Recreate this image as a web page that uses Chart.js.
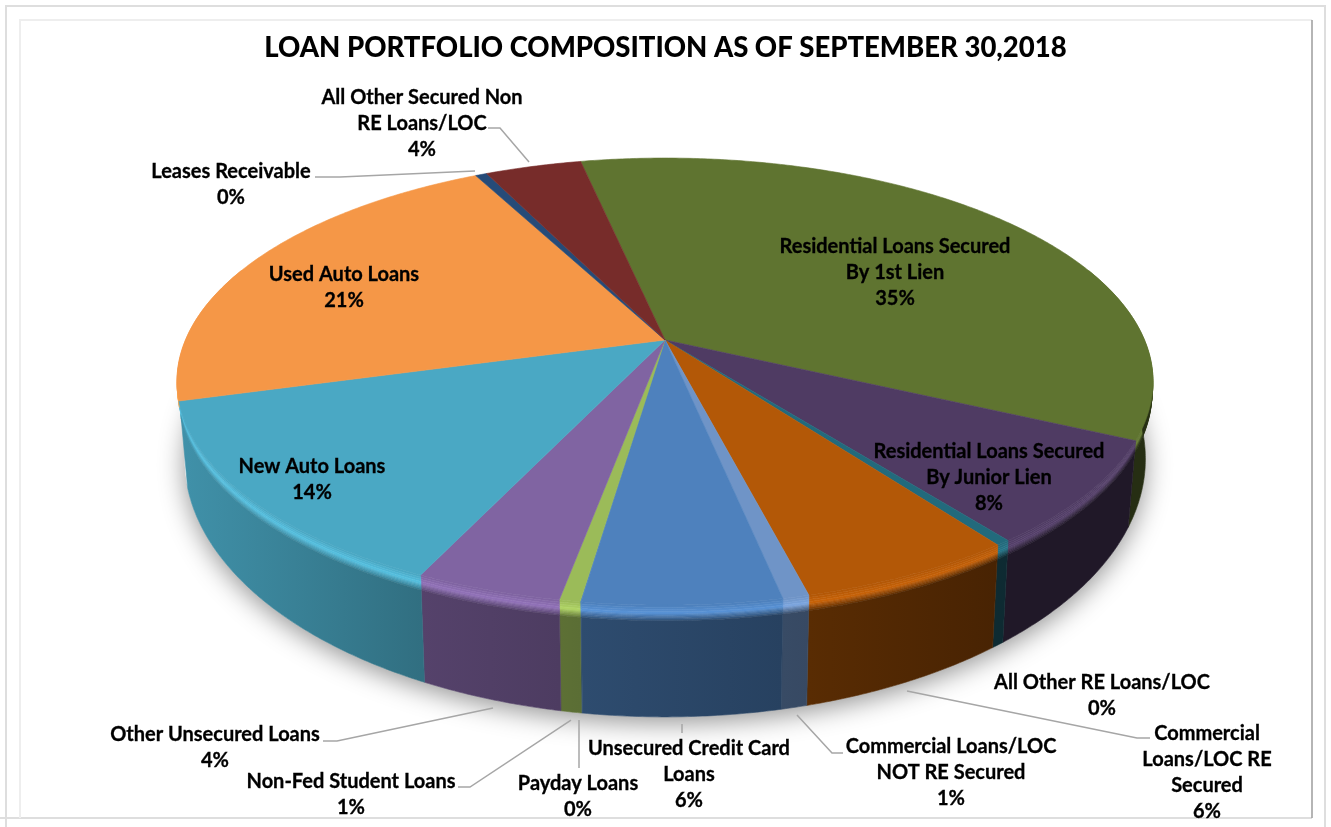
<!DOCTYPE html>
<html><head><meta charset="utf-8">
<script src="https://cdn.jsdelivr.net/npm/chart.js@4"></script>
<style>html,body{margin:0;padding:0;background:#fff;overflow:hidden}canvas{display:block}</style>
</head><body><canvas id="c" width="1331" height="827"></canvas>
<script>
const categories = ["Residential Loans Secured By 1st Lien","Residential Loans Secured By Junior Lien","All Other RE Loans/LOC","Commercial Loans/LOC RE Secured","Commercial Loans/LOC NOT RE Secured","Unsecured Credit Card Loans","Payday Loans","Non-Fed Student Loans","Other Unsecured Loans","New Auto Loans","Used Auto Loans","Leases Receivable","All Other Secured Non RE Loans/LOC"];
const shares = [35.2,7.45,0.4,6.05,0.73,5.47,0.03,0.57,4.06,13.63,21.6,0.45,3.8];
const percentLabels = ["35%","8%","0%","6%","1%","6%","0%","1%","4%","14%","21%","0%","4%"];
const colors = ["#5f7430","#4f3b63","#226a7c","#b35807","#6f94c7","#4e81bd","#4e81bd","#9bbb59","#8064a2","#4aa8c4","#f59747","#264b78","#772c2a"];

// label placement, one entry per category: wrapped lines, centre x, first-line y, optional leader
const labelLines = [["Residential Loans Secured","By 1st Lien"],["Residential Loans Secured","By Junior Lien"],["All Other RE Loans/LOC"],["Commercial","Loans/LOC RE","Secured"],["Commercial Loans/LOC","NOT RE Secured"],["Unsecured Credit Card","Loans"],["Payday Loans"],["Non-Fed Student Loans"],["Other Unsecured Loans"],["New Auto Loans"],["Used Auto Loans"],["Leases Receivable"],["All Other Secured Non","RE Loans/LOC"]];
const labelX = [895,989,1102,1207,951,689,578,351,215,312,344,231,422];
const labelY = [247,452,683,734,747,749,784,782,735,467,275,172,98];
const leaders = [null,null,null,
 [[1150,738],[1137,738],[907,691]],
 [[843,753],[832,753],[797,715]],
 [[682,733],[682,724]],
 [[579,768],[579,720]],
 [[458,787],[470,787],[571,720]],
 [[323,741],[337,741],[493,708]],
 null,null,
 [[315,177],[340,177],[475,171]],
 [[488,128],[500,128],[529,162]]];

// projection of the pie disc
const view = {cx:665, cy:340, a:479.5, b:215.8, p:0.186, aB:472, bB:249, cyB:411};
const rim = th => {const X=Math.cos(th),Y=Math.sin(th),w=1-view.p*Y;return [X/w,Y/w,Y];};
const topPt = th => {const r=rim(th);return [view.cx+view.a*r[0],view.cy+view.b*r[1]];};
const botPt = th => {const r=rim(th);return [view.cx+view.aB*r[0],view.cyB+view.bB*r[1]];};
const hex = h => [1,3,5].map(i=>parseInt(h.substr(i,2),16));
const css = c => `rgb(${c.map(v=>Math.max(0,Math.min(255,Math.round(v)))).join(',')})`;
const mix = (a,b,t) => a.map((v,i)=>v+(b[i]-v)*t);
const darkAt = deg => {deg=(deg+360)%360;return deg>270?.6:(deg>165?.13:Math.min(.6,.13+(165-deg)*.0042));};
const gainAt = deg => {deg=(deg+360)%360;return deg>270?1.03:(deg>=90?1.15:1.02+(deg/90)*.13);};
const pie3d = {
  id:'pie3d',
  beforeDraw(chart){
    const g=chart.ctx; g.save(); g.fillStyle='#fff'; g.fillRect(0,0,1331,827);
    g.lineWidth=2; g.strokeStyle='#dedede'; g.beginPath();
    g.moveTo(6,827);g.lineTo(6,6);g.lineTo(1325,6);g.lineTo(1325,827);g.moveTo(0,818);g.lineTo(1312,818);g.stroke();
    g.strokeStyle='#eeeeee'; g.beginPath();g.moveTo(20,818);g.lineTo(20,20);g.lineTo(1312,20);g.stroke();
    g.strokeStyle='#9d9d9d'; g.lineWidth=1.5; g.beginPath();g.moveTo(1312,20);g.lineTo(1312,818);g.stroke();
    g.restore();
  },
  beforeDatasetDraw(){return false;},
  afterDatasetsDraw(chart){
    const g=chart.ctx, arcs=chart.getDatasetMeta(0).data, step=Math.PI/180, D=180/Math.PI;
    g.save();
    g.save();
    g.shadowColor='rgba(0,0,0,0.42)';g.shadowBlur=26;g.shadowOffsetY=6;g.fillStyle='#fff';
    g.beginPath();
    for(let t=0;t<=360;t+=2){const q=botPt(t*step);t?g.lineTo(q[0],q[1]):g.moveTo(q[0],q[1]);}
    g.closePath();g.fill();g.restore();
    const bands=[0,.02,.04,.06,.08,.09,.10,.11,.125,.14,1];
    const frontStart=-20/D, frontEnd=200/D, wallEnd=163/D;
    const strip=(t0,t1,u0,u1,fn)=>{
      const n=Math.max(2,Math.ceil((t1-t0)/(step/2)));
      const pos=(t,u)=>{const p=topPt(t),q=botPt(t);return [p[0]+(q[0]-p[0])*u,p[1]+(q[1]-p[1])*u];};
      const x0=pos(t0,u0)[0],x1=pos(t1,u0)[0];
      const gr=g.createLinearGradient(x0,0,Math.abs(x1-x0)<1?x0+1:x1,0);
      gr.addColorStop(0,fn(t0*D));gr.addColorStop(1,fn(t1*D));
      g.fillStyle=g.strokeStyle=gr;g.lineWidth=.6;
      g.beginPath();
      for(let s=0;s<=n;s++){const q=pos(t0+(t1-t0)*s/n,u0);s?g.lineTo(q[0],q[1]):g.moveTo(q[0],q[1]);}
      for(let s=n;s>=0;s--){const q=pos(t0+(t1-t0)*s/n,u1);g.lineTo(q[0],q[1]);}
      g.closePath();g.fill();g.stroke();
    };
    arcs.forEach((a,i)=>{
      const base=hex(colors[i]);
      let s=a.startAngle,e=a.endAngle;
      if(s<frontStart && e<frontStart) return;
      s=Math.max(s,frontStart);e=Math.min(e,frontEnd);
      if(e<=s) return;
      for(let b=0;b+1<bands.length;b++){
        const u0=bands[b],u1=bands[b+1],last=b+2===bands.length;
        const colour=deg=>{
          const wall=mix(base,[0,0,0],darkAt(deg)),bright=base.map(v=>v*gainAt(deg));
          if(last) return css(wall);
          return u0<.07?css(mix(base,bright,u0/.07)):css(mix(bright,wall,(u0-.07)/.07));
        };
        const e2=u0>=.07?Math.min(e,wallEnd):e;
        if(e2>s) strip(s,e2,u0,u1,colour);
      }
    });
    arcs.forEach((a,i)=>{
      g.fillStyle=g.strokeStyle=colors[i];g.lineWidth=.6;
      g.beginPath();g.moveTo(view.cx,view.cy);
      const n=Math.max(2,Math.ceil((a.endAngle-a.startAngle)/(step/2)));
      for(let s=0;s<=n;s++){const q=topPt(a.startAngle+(a.endAngle-a.startAngle)*s/n);g.lineTo(q[0],q[1]);}
      g.closePath();g.fill();g.stroke();
    });
    g.strokeStyle='#a6a6a6';g.lineWidth=1.5;
    leaders.forEach(l=>{if(!l)return;g.beginPath();l.forEach((q,j)=>j?g.lineTo(q[0],q[1]):g.moveTo(q[0],q[1]));g.stroke();});
    g.fillStyle='#000';g.strokeStyle='#000';g.lineWidth=.3;g.font='bold 20px Lato';g.textAlign='center';g.textBaseline='middle';
    categories.forEach((c,i)=>{
      labelLines[i].concat(percentLabels[i]).forEach((t,j)=>{
        g.fillText(t,labelX[i],labelY[i]+j*26);g.strokeText(t,labelX[i],labelY[i]+j*26);
      });
    });
    g.restore();
  }
};
new Chart(document.getElementById('c'),{
  type:'pie',
  data:{labels:categories,datasets:[{data:shares,backgroundColor:colors,borderWidth:0}]},
  options:{
    responsive:false,animation:false,rotation:-12,
    layout:{padding:0},
    plugins:{
      legend:{display:false},tooltip:{enabled:false},
      title:{display:true,text:'LOAN PORTFOLIO COMPOSITION AS OF SEPTEMBER 30,2018',color:'#000',
        font:{family:'Lato',size:27.5,weight:'900'},padding:{top:32,bottom:10}}
    }
  },
  plugins:[pie3d]
});
</script></body></html>
